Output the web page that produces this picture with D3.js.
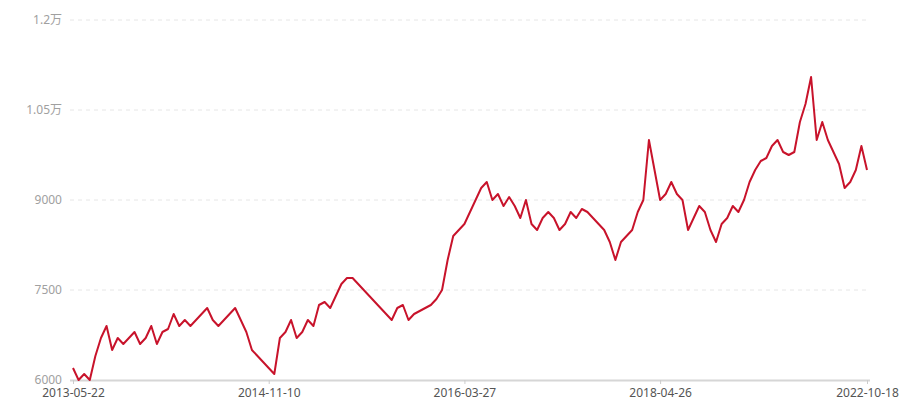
<!DOCTYPE html>
<html>
<head>
<meta charset="utf-8">
<script src="https://cdn.jsdelivr.net/npm/d3@7"></script>
<style>
  html, body { margin: 0; padding: 0; background: #fff; }
  svg { display: block; }
  text { font-family: "Noto Sans", "Noto Sans CJK SC", sans-serif; }
</style>
</head>
<body>
<svg id="chart" width="900" height="400"></svg>
<script>
// ---- data ----
const values = [
  6200, 6000, 6100, 6000, 6400, 6700, 6900, 6500, 6700, 6600,
  6700, 6800, 6600, 6700, 6900, 6600, 6800, 6850, 7100, 6900,
  7000, 6900, 7000, 7100, 7200, 7000, 6900, 7000, 7100, 7200,
  7000, 6800, 6500, 6400, 6300, 6200, 6100, 6700, 6800, 7000,
  6700, 6800, 7000, 6900, 7250, 7300, 7200, 7400, 7600, 7700,
  7700, 7600, 7500, 7400, 7300, 7200, 7100, 7000, 7200, 7250,
  7000, 7100, 7150, 7200, 7250, 7350, 7500, 8000, 8400, 8500,
  8600, 8800, 9000, 9200, 9300, 9000, 9100, 8900, 9050, 8900,
  8700, 9000, 8600, 8500, 8700, 8800, 8700, 8500, 8600, 8800,
  8700, 8850, 8800, 8700, 8600, 8500, 8300, 8000, 8300, 8400,
  8500, 8800, 9000, 10000, 9500, 9000, 9100, 9300, 9100, 9000,
  8500, 8700, 8900, 8800, 8500, 8300, 8600, 8700, 8900, 8800,
  9000, 9300, 9500, 9650, 9700, 9900, 10000, 9800, 9750, 9800,
  10300, 10600, 11050, 10000, 10300, 10000, 9800, 9600, 9200, 9300,
  9500, 9900, 9500
];
const tickIndex = [0, 35, 70, 105, 142];
const tickLabels = ["2013-05-22", "2014-11-10", "2016-03-27", "2018-04-26", "2022-10-18"];
const yTicks = [6000, 7500, 9000, 10500, 12000];

// ---- layout ----
const svg = d3.select("#chart");
const mLeft = 73, mRight = 867, mTop = 20, mBottom = 380;

const x = d3.scaleLinear().domain([0, values.length - 1]).range([mLeft, mRight]);
const y = d3.scaleLinear().domain([6000, 12000]).range([mBottom, mTop]);

function fmtY(v) {
  if (v >= 10000) return (+(v / 10000).toFixed(2)).toString() + "万";
  return String(v);
}

// grid lines
svg.append("g")
  .selectAll("line")
  .data(yTicks.filter(v => v !== 6000))
  .join("line")
  .attr("x1", mLeft - 3).attr("x2", mRight + 3)
  .attr("y1", d => y(d)).attr("y2", d => y(d))
  .attr("stroke", "#e6e6e6")
  .attr("stroke-width", 1)
  .attr("stroke-dasharray", "4,4");

// y axis labels
const yAxis = d3.axisLeft(y).tickValues(yTicks).tickFormat(fmtY).tickSize(0).tickPadding(0);
const gy = svg.append("g").attr("transform", `translate(${mLeft - 11},0)`).call(yAxis);
gy.select(".domain").remove();
gy.selectAll("text")
  .attr("fill", "#a0a0a0")
  .style("font-size", "12px");

// x axis
const xAxis = d3.axisBottom(x).tickValues(tickIndex)
  .tickFormat((d, i) => tickLabels[i]).tickSize(4).tickPadding(4);
const gx = svg.append("g").attr("transform", `translate(0,${mBottom})`).call(xAxis);
gx.select(".domain")
  .attr("d", `M${mLeft - 3},0.5H${mRight + 3}`)
  .attr("stroke", "#d6d6d6")
  .attr("stroke-width", 2);
gx.selectAll(".tick line").attr("stroke", "#cccccc");
gx.selectAll("text")
  .attr("fill", "#555555")
  .style("font-size", "12px");

// line
const line = d3.line().x((d, i) => x(i)).y(d => y(d));
svg.append("path")
  .datum(values)
  .attr("d", line)
  .attr("fill", "none")
  .attr("stroke", "#c8132b")
  .attr("stroke-width", 2)
  .attr("stroke-linejoin", "round");
</script>
</body>
</html>
